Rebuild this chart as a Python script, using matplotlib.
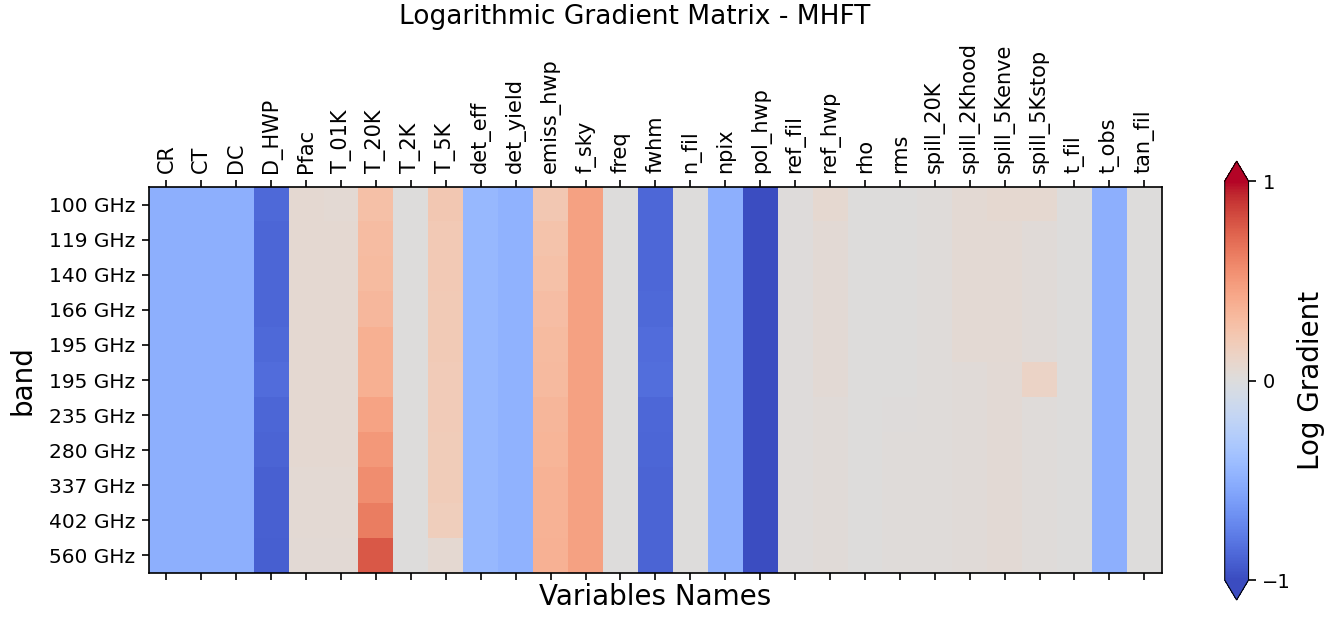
import numpy as np
import matplotlib
matplotlib.use("Agg")
import matplotlib.pyplot as plt

# bandas y variables
bands = ["100 GHz", "119 GHz", "140 GHz", "166 GHz", "195 GHz", "195 GHz",
         "235 GHz", "280 GHz", "337 GHz", "402 GHz", "560 GHz"]
variables = ["CR", "CT", "DC", "D_HWP", "Pfac", "T_01K", "T_20K", "T_2K", "T_5K",
             "det_eff", "det_yield", "emiss_hwp", "f_sky", "freq", "fwhm", "n_fil",
             "npix", "pol_hwp", "ref_fil", "ref_hwp", "rho", "rms", "spill_20K",
             "spill_2Khood", "spill_5Kenve", "spill_5Kstop", "t_fil", "t_obs", "tan_fil"]

# gradientes logaritmicos (una lista por variable, una entrada por banda)
CR = [-0.5] * 11
CT = [-0.5] * 11
DC = [-0.5] * 11
D_HWP = [-0.86, -0.88, -0.88, -0.88, -0.86, -0.85, -0.88, -0.89, -0.90, -0.90, -0.91]
Pfac = [0.06, 0.06, 0.06, 0.06, 0.06, 0.06, 0.06, 0.06, 0.05, 0.05, 0.04]
T_01K = [0.05, 0.06, 0.06, 0.06, 0.06, 0.06, 0.06, 0.06, 0.05, 0.05, 0.04]
T_20K = [0.28, 0.30, 0.31, 0.33, 0.38, 0.38, 0.45, 0.50, 0.56, 0.63, 0.78]
T_2K = [0.0] * 11
T_5K = [0.22, 0.21, 0.21, 0.20, 0.20, 0.19, 0.19, 0.18, 0.18, 0.17, 0.06]
det_eff = [-0.44] * 11
det_yield = [-0.48] * 11
emiss_hwp = [0.22, 0.25, 0.27, 0.29, 0.31, 0.32, 0.34, 0.35, 0.36, 0.36, 0.37]
f_sky = [0.46] * 11
freq = [0.0] * 11
fwhm = [-0.87, -0.87, -0.87, -0.86, -0.85, -0.84, -0.87, -0.88, -0.89, -0.89, -0.89]
n_fil = [0.0] * 11
npix = [-0.5] * 11
pol_hwp = [-0.99] * 11
ref_fil = [0.01] * 11
ref_hwp = [0.07, 0.04, 0.04, 0.04, 0.04, 0.04, 0.03, 0.03, 0.03, 0.03, 0.03]
rho = [0.0] * 11
rms = [0.0, 0.0, 0.0, 0.0, 0.0, 0.0, 0.01, 0.02, 0.02, 0.02, 0.02]
spill_20K = [0.02] * 11
spill_2Khood = [0.05, 0.05, 0.05, 0.05, 0.05, 0.03, 0.03, 0.03, 0.03, 0.03, 0.03]
spill_5Kenve = [0.07, 0.05, 0.05, 0.05, 0.05, 0.04, 0.04, 0.04, 0.04, 0.04, 0.04]
spill_5Kstop = [0.07, 0.03, 0.03, 0.03, 0.03, 0.12, 0.02, 0.02, 0.02, 0.02, 0.02]
t_fil = [0.0] * 11
t_obs = [-0.5] * 11
tan_fil = [0.0] * 11

columnas = [CR, CT, DC, D_HWP, Pfac, T_01K, T_20K, T_2K, T_5K, det_eff, det_yield,
            emiss_hwp, f_sky, freq, fwhm, n_fil, npix, pol_hwp, ref_fil, ref_hwp,
            rho, rms, spill_20K, spill_2Khood, spill_5Kenve, spill_5Kstop, t_fil,
            t_obs, tan_fil]
matriz = np.array(columnas).T

fig = plt.figure(figsize=(13.24, 6.19), dpi=100)
ax = fig.add_axes([0.1125, 0.0743, 0.765, 0.6236])
im = ax.imshow(matriz, cmap="coolwarm", vmin=-1, vmax=1, aspect="auto")

ax.set_xticks(range(len(variables)))
ax.set_xticklabels(variables, rotation=90, fontsize=15)
ax.set_yticks(range(len(bands)))
ax.set_yticklabels(bands, fontsize=14.5)
ax.tick_params(axis="x", top=True, labeltop=True, bottom=True, labelbottom=False)
ax.tick_params(length=5, width=1.2, pad=5)
for s in ax.spines.values():
    s.set_linewidth(1.2)
ax.set_xlabel("Variables Names", fontsize=20, labelpad=2)
ax.set_ylabel("band", fontsize=20, labelpad=9)

cax = fig.add_axes([0.925, 0.0307, 0.018, 0.709])
cb = fig.colorbar(im, cax=cax, extend="both", ticks=[-1, 0, 1])
cb.ax.tick_params(labelsize=14, length=5, width=1.2, pad=5)
cb.set_label("Log Gradient", fontsize=20, labelpad=4)

fig.text(0.479, 0.9725, "Logarithmic Gradient Matrix - MHFT", fontsize=19,
         ha="center", va="center")

fig.savefig("out.png", dpi=100)
